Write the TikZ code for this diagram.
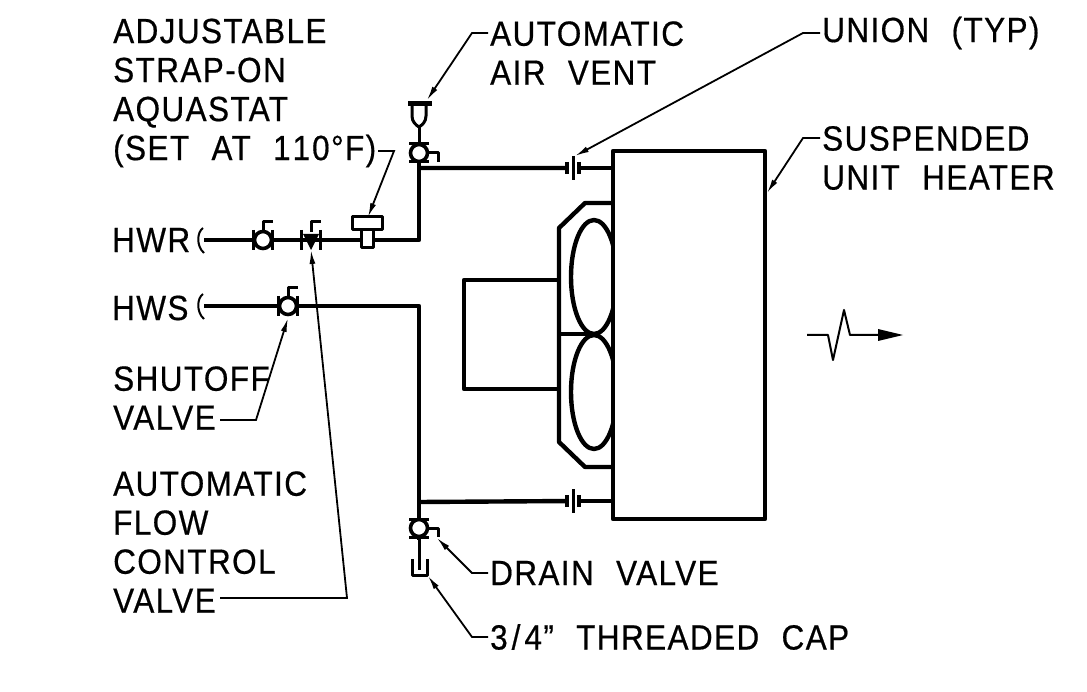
\documentclass[tikz,border=0pt]{standalone}
\usepackage{fontspec}
\setmainfont[FakeStretch=0.9,FakeBold=0.5,LetterSpace=4,WordSpace=2.2]{Liberation Sans}
\usetikzlibrary{arrows.meta}
\tikzset{
  pipe/.style={line width=4.4pt,line join=round},
  thin line/.style={line width=3pt,line join=round},
  leader/.style={line width=1.8pt,-{Latex[length=14pt,width=6pt]}},
  note/.style={anchor=west,inner sep=0pt,align=left,font=\fontsize{35}{39}\selectfont},
  valve/.style={circle,draw,line width=3.6pt,fill=white,inner sep=0pt,minimum size=17pt},
  spot/.style={inner sep=0pt,minimum size=0pt}
}
\begin{document}
\begin{tikzpicture}[x=1pt,y=-1pt]
\useasboundingbox (0,0) rectangle (1087,692);
\node[note] (Aquastat) at (113,93)  {ADJUSTABLE\\STRAP-ON\\AQUASTAT\\(SET AT 1\kern2pt 1\kern2pt 0°F)};
\node[note] (Vent)     at (490,53)  {AUTOMATIC\\AIR VENT};
\node[note] (Union)    at (822,33)  {UNION (TYP)};
\node[note] (Heater)   at (822,158) {SUSPENDED\\UNIT HEATER};
\node[note] (Hwr)      at (113,240) {\kern-1pt HWR};
\node[note] (Hws)      at (113,308) {\kern-1pt HWS};
\node[note] (Shutoff)  at (113,398) {SHUTOFF\\VALVE};
\node[note] (Flow)     at (113,542) {AUTOMATIC\\FLOW\\CONTROL\\VALVE};
\node[note] (Drain)    at (490,573) {DRAIN VALVE};
\node[note] (Cap)      at (490,637) {3\kern4pt/\kern4pt 4" THREADED CAP};

\coordinate (SqR)   at (204,240);
\coordinate (SqS)   at (204,306);
\coordinate (Riser) at (419,240);
\coordinate (Tee)   at (419,168);
\coordinate (Elbow) at (419,306);
\coordinate (Low)   at (419,502);
\coordinate (UnTop) at (573,168);
\coordinate (UnLow) at (573,501);

\draw[pipe] (SqR) -- (Riser) -- (419,146);
\draw[pipe] (SqS) -- (Elbow) -- (419,540);
\draw[thin line] (419,540) -- (419,570);
\draw[thin line] (419,143) -- (419,127);
\draw[pipe] (Tee) -- (UnTop) (Low) -- (UnLow);
\draw[pipe] (UnTop) -- (613,168) (UnLow) -- (613,501);
\foreach \u in {UnTop,UnLow} {
  \fill[white] ([shift={(-5,-8)}]\u) rectangle ([shift={(5,8)}]\u);
  \draw[thin line] ([shift={(0,-12)}]\u) -- ([shift={(0,12)}]\u);
  \draw[thin line,line width=4pt] ([shift={(-6,-6)}]\u) -- ([shift={(-6,6)}]\u);
  \draw[thin line,line width=4pt] ([shift={(6,-6)}]\u) -- ([shift={(6,6)}]\u);
}

\foreach \s in {SqR,SqS} {
  \draw[thin line,line width=2pt] ([shift={(-1,-12)}]\s) .. controls ([shift={(-7,-8)}]\s) and ([shift={(-8,6)}]\s) .. ([shift={(0,13)}]\s);
}

\node[valve] (VHwr) at (263,240) {};
\node[valve] (VHws) at (288,306) {};
\node[spot]  (VFcv) at (311,240) {};
\foreach \v in {VHwr,VHws,VFcv} {
  \draw[thin line] ([shift={(-10,-10)}]\v.center) -- ([shift={(-10,10)}]\v.center);
  \draw[thin line] ([shift={(9,-10)}]\v.center) -- ([shift={(9,10)}]\v.center);
  \draw[thin line] ([shift={(0,-8)}]\v.center) -- ([shift={(0,-18)}]\v.center) -- ([shift={(10,-18)}]\v.center);
}
\fill ([shift={(-8,-6)}]VFcv.center) -- ([shift={(8,-6)}]VFcv.center) -- ([shift={(0,10)}]VFcv.center) -- cycle;

\node[valve] (VTop) at (419,153) {};
\node[valve] (VLow) at (419,528) {};
\foreach \v in {VTop,VLow} {
  \draw[thin line] ([shift={(-10,-9)}]\v.center) -- ([shift={(10,-9)}]\v.center);
  \draw[thin line] ([shift={(-10,9)}]\v.center) -- ([shift={(10,9)}]\v.center);
  \draw[thin line] (\v.east) -- ([shift={(19,0)}]\v.center) -- ([shift={(19,9)}]\v.center);
}

\draw[thin line,fill=white] (361,230) rectangle (373,248);
\draw[thin line,fill=white] (352,217) rectangle (382,230);

\draw[line width=5pt] (408,104) -- (432,104);
\draw[thin line] (412,104) -- (412,116) .. controls (412,122) and (416,125) .. (419,127) .. controls (422,125) and (426,122) .. (426,116) -- (426,104);

\draw[thin line] (412,559) -- (412,575) -- (427,575) -- (427,559);

\draw[pipe] (613,203) -- (585,203) -- (559,228) -- (559,442) -- (585,467) -- (613,467);
\draw[pipe] (559,280) -- (464,280) -- (464,389) -- (559,389);
\draw[pipe] (559,334) -- (594,334);
\draw[pipe] (594,277) ellipse [x radius=23,y radius=57];
\draw[pipe] (594,392) ellipse [x radius=23,y radius=57];
\draw[pipe,fill=white] (613,151) rectangle (765,519);

\draw[thin line,line width=2pt] (807,335) -- (828,335) -- (833,360) -- (844,310) -- (850,335) -- (878,335);
\fill (878,329) -- (903,335) -- (878,341) -- cycle;

\coordinate (LVent)    at (472,33);
\coordinate (LStat)    at (394,151);
\coordinate (LUnion)   at (803,33);
\coordinate (LHeater)  at (803,138);
\coordinate (LShutoff) at (256,420);
\coordinate (LFlow)    at (347,598);
\coordinate (LDrain)   at (472,573);
\coordinate (LCap)     at (472,637);
\draw[leader] (488,33)  -- (LVent)    -- (427,100);
\draw[leader] (378,151) -- (LStat)    -- (368,217);
\draw[leader] (820,33)  -- (LUnion)   -- (575,156);
\draw[leader] (820,138) -- (LHeater)  -- (767,193);
\draw[leader] (220,420) -- (LShutoff) -- (288,318);
\draw[leader] (220,598) -- (LFlow)    -- (311,250);
\draw[leader] (488,573) -- (LDrain)   -- (437,538);
\draw[leader] (488,637) -- (LCap)     -- (428,576);
\end{tikzpicture}
\end{document}
